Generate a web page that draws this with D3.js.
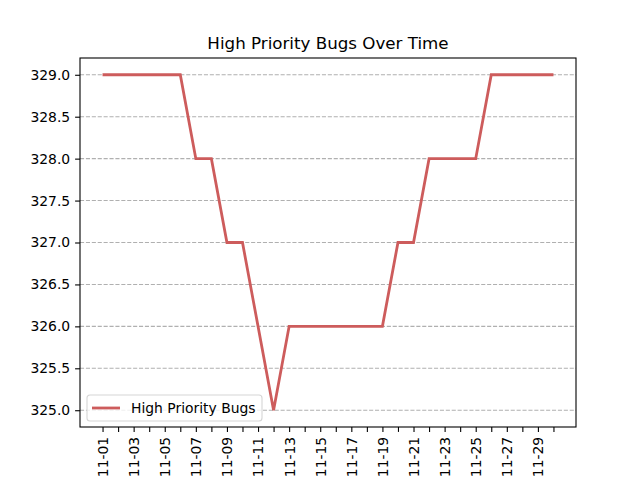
<!DOCTYPE html>
<html>
<head>
<meta charset="utf-8">
<script src="https://cdn.jsdelivr.net/npm/d3@7"></script>
<style>
  body { margin: 0; background: #fff; }
  svg { font-family: "DejaVu Sans", sans-serif; }
</style>
</head>
<body>
<svg id="chart" width="640" height="480"></svg>
<script>
// one value per day of November
let days = d3.range(1, 31).map(d => "11-" + String(d).padStart(2, "0"));
let bugs = [329, 329, 329, 329, 329, 329, 328, 328, 327, 327,
            326, 325, 326, 326, 326, 326, 326, 326, 326, 327,
            327, 328, 328, 328, 328, 329, 329, 329, 329, 329];
let yTicks = [325.0, 325.5, 326.0, 326.5, 327.0, 327.5, 328.0, 328.5, 329.0];
let seriesName = "High Priority Bugs";

let svg = d3.select("#chart");
let mLeft = 80, mRight = 576, mTop = 58, mBottom = 427;
let color = "#cd5c5c";

let parse = d3.timeParse("%Y-%m-%d");
let data = days.map((d, i) => ({ date: parse("2023-" + d), value: bugs[i] }));

let xExt = d3.extent(data, d => d.date);
let span = xExt[1] - xExt[0];
let x = d3.scaleTime()
    .domain([new Date(+xExt[0] - span * 0.05), new Date(+xExt[1] + span * 0.05)])
    .range([mLeft, mRight]);

let yMin = d3.min(bugs), yMax = d3.max(bugs);
let pad = (yMax - yMin) * 0.05;
let y = d3.scaleLinear().domain([yMin - pad, yMax + pad]).range([mBottom, mTop]);

// grid
svg.append("g").selectAll("line").data(yTicks).join("line")
    .attr("x1", mLeft).attr("x2", mRight)
    .attr("y1", d => y(d)).attr("y2", d => y(d))
    .attr("stroke", "#b0b0b0").attr("stroke-width", 1.1)
    .attr("stroke-dasharray", "4.1,1.8");

// line
let line = d3.line().x(d => x(d.date)).y(d => y(d.value));
svg.append("path").datum(data)
    .attr("d", line)
    .attr("fill", "none")
    .attr("stroke", color)
    .attr("stroke-width", 2.8)
    .attr("stroke-linejoin", "miter");

// axes
let yAxis = d3.axisLeft(y).tickValues(yTicks).tickFormat(d3.format(".1f"))
    .tickSize(4.9).tickPadding(4.9);
let gy = svg.append("g").attr("transform", `translate(${mLeft},0)`).call(yAxis);

let xAxis = d3.axisBottom(x).tickValues(data.map(d => d.date))
    .tickFormat((d, i) => i % 2 === 0 ? d3.timeFormat("%m-%d")(d) : "")
    .tickSize(4.9).tickPadding(4.9);
let gx = svg.append("g").attr("transform", `translate(0,${mBottom})`).call(xAxis);
gx.selectAll("text")
    .attr("transform", "rotate(-90)")
    .attr("text-anchor", "end")
    .attr("dy", "0.35em")
    .attr("x", -9.8)
    .attr("y", 0);

[gx, gy].forEach(g => {
    g.select(".domain").remove();
    g.selectAll("line").attr("stroke", "#000").attr("stroke-width", 1.1);
    g.selectAll("text").attr("font-size", 13.9).attr("fill", "#000")
        .attr("font-family", "DejaVu Sans");
});

// frame
svg.append("rect")
    .attr("x", mLeft).attr("y", mTop)
    .attr("width", mRight - mLeft).attr("height", mBottom - mTop)
    .attr("fill", "none").attr("stroke", "#000").attr("stroke-width", 1.1);

// title
svg.append("text")
    .attr("x", (mLeft + mRight) / 2).attr("y", 49)
    .attr("text-anchor", "middle")
    .attr("font-size", 16.7)
    .text("High Priority Bugs Over Time");

// legend
let lg = svg.append("g").attr("transform", "translate(87,395)");
lg.append("rect")
    .attr("width", 175).attr("height", 26).attr("rx", 3)
    .attr("fill", "#fff").attr("fill-opacity", 0.8)
    .attr("stroke", "#d5d5d5").attr("stroke-width", 1.1);
lg.append("line")
    .attr("x1", 5).attr("x2", 33).attr("y1", 13).attr("y2", 13)
    .attr("stroke", color).attr("stroke-width", 2.8);
lg.append("text")
    .attr("x", 44).attr("y", 13).attr("dy", "0.35em")
    .attr("font-size", 13.9)
    .text(seriesName);
</script>
</body>
</html>
